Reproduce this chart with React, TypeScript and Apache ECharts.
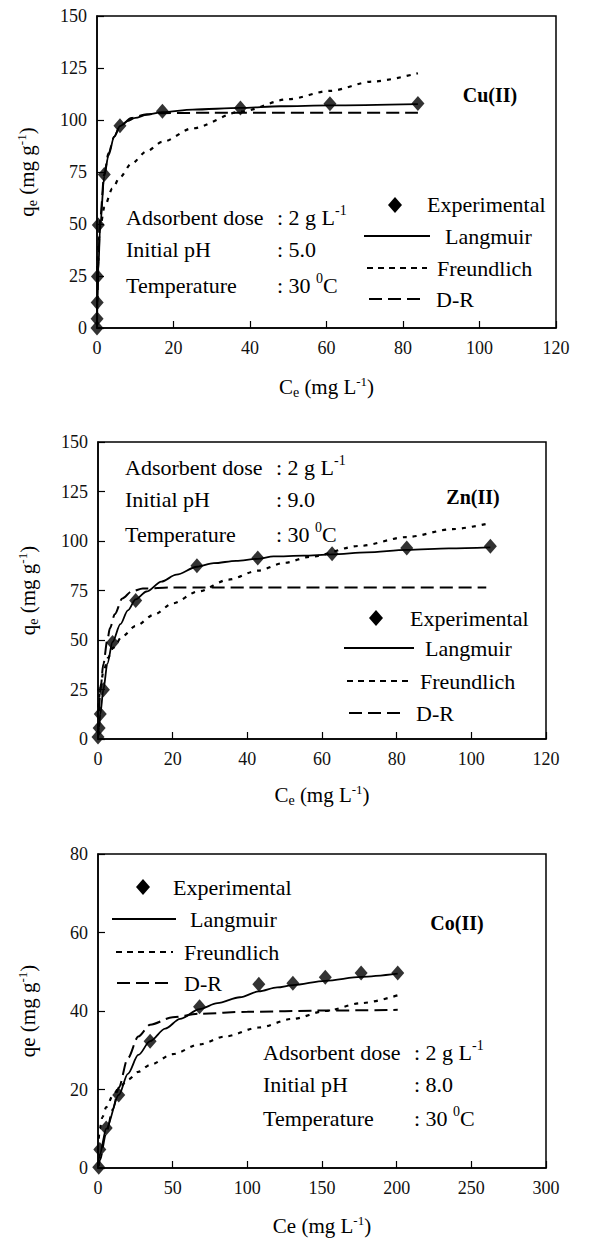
import React, { useEffect, useRef } from "react";
import * as echarts from "echarts";

// ---------- Cu(II) ----------
const cuExpCe = [0, 0.02, 0.05, 0.12, 0.35, 1.9, 6.0, 17.1, 37.5, 60.9, 83.9];
const cuExpQe = [0, 4.5, 12.3, 24.8, 49.5, 73.8, 97.2, 104.2, 105.8, 107.8, 107.9];
const cuLangCe = [0, 0.1, 0.35, 0.8, 1.9, 3, 4.5, 6, 8, 10, 13, 17.1, 25, 37.5, 48, 60.9, 83.9];
const cuLangQe = [0, 10, 28, 48, 73, 83, 92, 97, 99.5, 101, 102.5, 103.8, 105, 105.8, 106.6, 107, 107.6];
const cuFreuCe = [0.02, 0.1, 0.35, 1, 1.9, 4, 6, 9, 13, 17.1, 25, 37.5, 50, 60.9, 72, 83.9];
const cuFreuQe = [23, 32, 41, 50, 58, 67, 72.5, 79, 85, 89.5, 96, 104, 110, 114, 118.5, 122.5];
const cuDrCe = [0, 0.1, 0.35, 0.8, 1.9, 3, 4.5, 6, 9, 13, 17.1, 30, 83.9];
const cuDrQe = [0, 12, 32, 52, 74, 84, 92, 97, 101, 102.8, 103.3, 103.5, 103.5];

// ---------- Zn(II) ----------
const znExpCe = [0, 0.3, 0.6, 1.45, 3.9, 10.1, 26.5, 42.8, 62.7, 82.7, 105.1];
const znExpQe = [1, 5.6, 12.6, 24.9, 48.8, 69.9, 87.5, 91.4, 93.6, 96.5, 97.3];
const znLangCe = [0, 0.3, 0.6, 1.45, 2.5, 3.9, 6, 8, 10.1, 13, 17, 21, 26.5, 31, 37, 42.8, 47, 55, 62.7, 72, 82.7, 94, 105.1];
const znLangQe = [0, 6, 12.5, 25, 38, 49, 58, 65, 70.5, 74.5, 79.5, 83, 87, 88.8, 90, 91, 92.2, 92.6, 93.2, 94.3, 95.5, 96.3, 96.8];
const znFreuCe = [0.1, 0.3, 0.6, 1.45, 2.7, 4, 6.6, 10, 15.2, 20, 26.8, 35, 42.8, 50, 56.7, 70, 82.7, 95, 104.9];
const znFreuQe = [16, 21, 26, 34, 41, 46, 52, 57, 63, 68.5, 74.5, 80.5, 85, 89, 92, 97.5, 102, 106, 109];
const znDrCe = [0.3, 0.6, 1.45, 2.5, 3.2, 4.5, 6.5, 9, 12, 20, 40, 104];
const znDrQe = [14, 24, 38, 50, 56, 63, 71, 74.5, 76, 76.5, 76.5, 76.5];

// ---------- Co(II) ----------
const coExpCe = [0.5, 1.2, 5.5, 13.9, 34.9, 68, 107.7, 130.5, 152.2, 176.2, 200.7];
const coExpQe = [0.2, 4.7, 10.2, 18.6, 32.3, 41.1, 46.8, 47.1, 48.6, 49.7, 49.7];
const coLangCe = [0, 1.2, 5.5, 13.9, 20, 27, 34.9, 45, 55, 68, 80, 95, 107.7, 120, 130.5, 152.2, 176.2, 200.7];
const coLangQe = [0, 3.5, 10, 18.6, 24, 28.8, 32.3, 35.5, 38, 40.5, 42, 43.5, 45, 46, 46.6, 47.7, 48.7, 49.5];
const coFreuCe = [0.5, 1.2, 3, 5.5, 10, 13.9, 20, 27, 34.9, 50, 68, 85, 107.7, 130.5, 152.2, 176.2, 200.7];
const coFreuQe = [7.5, 10, 13, 15.5, 18.5, 20.3, 22.5, 24.5, 26.3, 29, 31.5, 33.5, 35.8, 38, 40, 42, 44];
const coDrCe = [0.5, 1.2, 5.5, 10, 13.9, 20, 27, 34.9, 50, 68, 100, 150, 200.7];
const coDrQe = [0.5, 2, 9, 15, 20.5, 28, 33.5, 36.5, 38.4, 39.3, 39.8, 40.1, 40.3];

// axis ranges and tick steps
const xMax = [120, 120, 300];
const xStep = [20, 20, 50];
const yMax = [150, 150, 80];
const yStep = [25, 25, 20];

const legendNames = ["Experimental", "Langmuir", "Freundlich", "D-R"];
const metalNames = ["Cu(II)", "Zn(II)", "Co(II)"];
const conditionLabels = ["Adsorbent dose", "Initial pH", "Temperature"];
const phValues = ["5.0", "9.0", "8.0"];

const SERIF = "'Liberation Serif', 'Times New Roman', serif";
const INK = "#000";
const TEXT_PX = 22;

const zip = (a: number[], b: number[]) => a.map((v, i) => [v, b[i]]);

// dash patterns: Freundlich fit (plot / legend sample) and D-R fit
const DASH_FREU = [4, 6];
const DASH_FREU_KEY = [6, 5];
const DASH_DR = [13, 6];

// plot rectangles of the three panels
const grids = [
  { left: 97, top: 16, width: 459, height: 312 },
  { left: 98, top: 442, width: 448, height: 297 },
  { left: 98, top: 854, width: 448, height: 314 },
];

const richBase = {
  t: { fontFamily: SERIF, fontSize: 21, color: INK, lineHeight: 24 },
  sub: { fontFamily: SERIF, fontSize: 14, color: INK, verticalAlign: "bottom" as const },
  sup: { fontFamily: SERIF, fontSize: 13, color: INK, verticalAlign: "top" as const },
};

const annoRich = {
  t: { fontFamily: SERIF, fontSize: TEXT_PX, color: INK, lineHeight: 27 },
  sup: { fontFamily: SERIF, fontSize: 14, color: INK, verticalAlign: "top" as const },
};

function legendBlock(
  d: [number, number],
  text: [number, number, number, number],
  lines: [number, number][],
  rows: [number, number, number, number]
) {
  const els: any[] = [];
  const [dx, dy] = d;
  els.push({
    type: "polygon",
    shape: { points: [[dx, dy - 8], [dx + 7, dy], [dx, dy + 8], [dx - 7, dy]] },
    style: { fill: INK },
  });
  const dashes = [null, DASH_FREU_KEY, DASH_DR];
  for (let i = 0; i < 3; i++) {
    els.push({
      type: "line",
      shape: { x1: lines[i][0], y1: rows[i + 1], x2: lines[i][1], y2: rows[i + 1] },
      style: { stroke: INK, lineWidth: 2, lineDash: dashes[i] || undefined },
    });
  }
  for (let i = 0; i < 4; i++) {
    els.push({
      type: "text",
      x: text[i],
      y: rows[i],
      style: {
        text: legendNames[i],
        font: `${TEXT_PX}px ${SERIF}`,
        fill: INK,
        verticalAlign: "middle",
        align: "left",
      },
    });
  }
  return els;
}

function conditions(lx: number, vx: number, ys: number[], ph: string) {
  const values = [
    "{t|: 2 g L}{sup|-1}",
    `{t|: ${ph}}`,
    "{t|: 30 }{sup|0}{t|C}",
  ];
  const els: any[] = [];
  for (let i = 0; i < 3; i++) {
    els.push({
      type: "text",
      x: lx,
      y: ys[i],
      style: { text: conditionLabels[i], font: `${TEXT_PX}px ${SERIF}`, fill: INK, verticalAlign: "middle" },
    });
    els.push({
      type: "text",
      x: vx,
      y: ys[i],
      style: { text: values[i], rich: annoRich, verticalAlign: "middle" },
    });
  }
  return els;
}

function metalLabel(i: number, cx: number, cy: number) {
  return {
    type: "text",
    x: cx,
    y: cy,
    style: {
      text: metalNames[i],
      font: `bold 20px ${SERIF}`,
      fill: INK,
      align: "center",
      verticalAlign: "middle",
    },
  };
}

export default function App() {
  const ref = useRef<HTMLDivElement>(null);

  useEffect(() => {
    if (!ref.current) return;
    const chart = echarts.init(ref.current, undefined, { renderer: "svg" });

    const yNames = [
      "{t|q}{sub|e}{t| (mg g}{sup|-1}{t|)}",
      "{t|q}{sub|e}{t| (mg g}{sup|-1}{t|)}",
      "{t|qe (mg g}{sup|-1}{t|)}",
    ];
    const xNames = [
      "{t|C}{sub|e}{t| (mg L}{sup|-1}{t|)}",
      "{t|C}{sub|e}{t| (mg L}{sup|-1}{t|)}",
      "{t|Ce (mg L}{sup|-1}{t|)}",
    ];
    const xNameGap = [47, 44, 46];

    const xAxis = grids.map((_, i) => ({
      type: "value",
      gridIndex: i,
      min: 0,
      max: xMax[i],
      interval: xStep[i],
      axisLine: { show: true, onZero: false, lineStyle: { color: INK, width: 1.5 } },
      axisTick: { show: true, inside: true, length: 7, lineStyle: { color: INK, width: 1.2 } },
      axisLabel: { color: "#111", fontFamily: SERIF, fontSize: 18, margin: 11 },
      splitLine: { show: false },
      name: xNames[i],
      nameLocation: "middle",
      nameGap: xNameGap[i],
      nameTextStyle: { rich: richBase },
    }));

    const yAxis = grids.map((_, i) => ({
      type: "value",
      gridIndex: i,
      min: 0,
      max: yMax[i],
      interval: yStep[i],
      axisLine: { show: true, onZero: false, lineStyle: { color: INK, width: 1.5 } },
      axisTick: { show: true, inside: true, length: 7, lineStyle: { color: INK, width: 1.2 } },
      axisLabel: { color: "#111", fontFamily: SERIF, fontSize: 18, margin: 10 },
      splitLine: { show: false },
      name: yNames[i],
      nameLocation: "middle",
      nameGap: 58,
      nameTextStyle: { rich: richBase },
    }));

    const panels = [
      { exp: zip(cuExpCe, cuExpQe), lang: zip(cuLangCe, cuLangQe), freu: zip(cuFreuCe, cuFreuQe), dr: zip(cuDrCe, cuDrQe) },
      { exp: zip(znExpCe, znExpQe), lang: zip(znLangCe, znLangQe), freu: zip(znFreuCe, znFreuQe), dr: zip(znDrCe, znDrQe) },
      { exp: zip(coExpCe, coExpQe), lang: zip(coLangCe, coLangQe), freu: zip(coFreuCe, coFreuQe), dr: zip(coDrCe, coDrQe) },
    ];

    const series: any[] = [];
    panels.forEach((p, i) => {
      const common = {
        type: "line",
        xAxisIndex: i,
        yAxisIndex: i,
        symbol: "none",
        showSymbol: false,
        smooth: 0.3,
        smoothMonotone: "x",
        z: 2,
      };
      series.push({ ...common, name: `${metalNames[i]} ${legendNames[1]}`, data: p.lang, lineStyle: { color: INK, width: 1.8, type: "solid" } });
      series.push({ ...common, name: `${metalNames[i]} ${legendNames[2]}`, data: p.freu, lineStyle: { color: INK, width: 2.2, type: DASH_FREU } });
      series.push({ ...common, name: `${metalNames[i]} ${legendNames[3]}`, data: p.dr, lineStyle: { color: INK, width: 2, type: DASH_DR } });
      series.push({
        type: "scatter",
        name: `${metalNames[i]} ${legendNames[0]}`,
        xAxisIndex: i,
        yAxisIndex: i,
        symbol: "diamond",
        symbolSize: [13, 15],
        itemStyle: { color: INK },
        data: p.exp,
        z: 3,
      });
    });

    const graphic: any[] = [
      // Cu(II) panel
      ...conditions(126, 277, [217, 249, 285], phValues[0]),
      ...legendBlock([395, 205], [427, 445, 437, 436], [[364, 430], [367, 427], [369, 421]], [204, 236, 268, 299]),
      metalLabel(0, 490, 95),
      // Zn(II) panel
      ...conditions(125, 276, [467, 499, 534], phValues[1]),
      ...legendBlock([376, 618], [410, 425, 420, 416], [[344, 414], [347, 409], [349, 405]], [618, 648, 681, 713]),
      metalLabel(1, 473, 497),
      // Co(II) panel
      ...conditions(263, 414, [1052, 1084, 1118], phValues[2]),
      ...legendBlock([143, 887], [173, 190, 184, 184], [[112, 176], [116, 173], [117, 170]], [887, 919, 952, 983]),
      metalLabel(2, 457, 923),
    ];

    chart.setOption({
      animation: false,
      backgroundColor: "#fff",
      textStyle: { fontFamily: SERIF },
      grid: grids.map((g) => ({
        ...g,
        show: true,
        borderColor: INK,
        borderWidth: 1.5,
        backgroundColor: "transparent",
        containLabel: false,
        outerBoundsMode: "none",
      })),
      xAxis,
      yAxis,
      series,
      graphic,
    });

    return () => chart.dispose();
  }, []);

  return (
    <div
      ref={ref}
      style={{ position: "absolute", left: 0, top: 0, width: 593, height: 1239, background: "#fff" }}
    />
  );
}
